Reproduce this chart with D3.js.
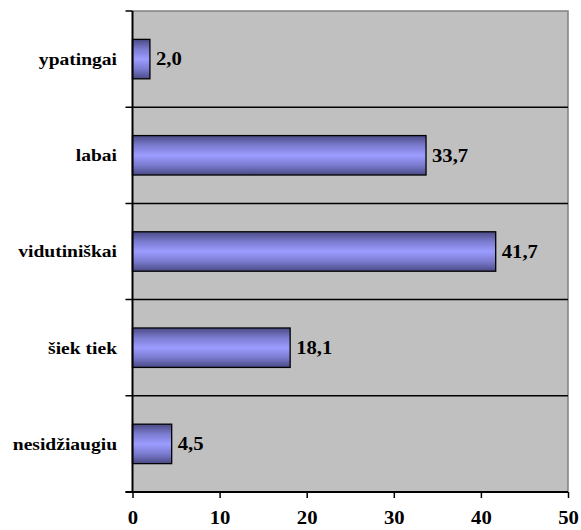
<!DOCTYPE html>
<html>
<head>
<meta charset="utf-8">
<script src="https://cdn.jsdelivr.net/npm/d3@7/dist/d3.min.js"></script>
<style>
  html, body { margin: 0; padding: 0; background: #fff; }
</style>
</head>
<body>
<svg id="chart" width="581" height="530"></svg>
<script>
// Answer categories, top to bottom
const categories = ["ypatingai", "labai", "vidutiniškai", "šiek tiek", "nesidžiaugiu"];
// Share of respondents, %
const values = [2.0, 33.7, 41.7, 18.1, 4.5];
// Value axis ticks
const xTicks = [0, 10, 20, 30, 40, 50];

const FONT = "Liberation Serif";
const STRETCH = 1.15; // slightly widened lettering

const svg = d3.select("#chart");
const m = { left: 132.5, right: 568, top: 11, bottom: 492 };

const x = d3.scaleLinear().domain([0, 50]).range([m.left, m.right]);
const y = d3.scaleBand().domain(categories).range([m.top, m.bottom]).paddingInner(0).paddingOuter(0);

// Bar fill: dark edges, light centre
const defs = svg.append("defs");
const grad = defs.append("linearGradient").attr("id", "barGrad")
  .attr("x1", 0).attr("y1", 0).attr("x2", 0).attr("y2", 1);
grad.append("stop").attr("offset", "0%").attr("stop-color", "#4a4a85");
grad.append("stop").attr("offset", "25%").attr("stop-color", "#7b7bd0");
grad.append("stop").attr("offset", "50%").attr("stop-color", "#9c9cff");
grad.append("stop").attr("offset", "75%").attr("stop-color", "#7b7bd0");
grad.append("stop").attr("offset", "100%").attr("stop-color", "#4a4a85");

// Plot area background
svg.append("rect")
  .attr("x", m.left).attr("y", m.top)
  .attr("width", m.right - m.left).attr("height", m.bottom - m.top)
  .attr("fill", "#c0c0c0");

// Top and right frame
svg.append("path")
  .attr("d", `M${m.left},${m.top}H${m.right}V${m.bottom}`)
  .attr("fill", "none").attr("stroke", "#808080").attr("stroke-width", 1.5);

// Category separators across the plot
const bounds = categories.slice(1).map(c => y(c));
svg.selectAll("line.sep").data(bounds).join("line")
  .attr("class", "sep")
  .attr("x1", m.left - 7).attr("x2", m.right)
  .attr("y1", d => d).attr("y2", d => d)
  .attr("stroke", "#000").attr("stroke-width", 1.5);

// Outer category ticks
svg.selectAll("line.ctick").data([m.top, m.bottom]).join("line")
  .attr("class", "ctick")
  .attr("x1", m.left - 7).attr("x2", m.left)
  .attr("y1", d => d).attr("y2", d => d)
  .attr("stroke", "#000").attr("stroke-width", 1.5);

// Bars
const barH = y.bandwidth() * 0.41;
svg.selectAll("rect.bar").data(categories).join("rect")
  .attr("class", "bar")
  .attr("x", x(0))
  .attr("y", d => y(d) + (y.bandwidth() - barH) / 2)
  .attr("width", (d, i) => x(values[i]) - x(0))
  .attr("height", barH)
  .attr("fill", "url(#barGrad)")
  .attr("stroke", "#000").attr("stroke-width", 1.3);

// Value labels
svg.selectAll("text.val").data(categories).join("text")
  .attr("class", "val")
  .attr("transform", (d, i) => `translate(${x(values[i]) + 6},${y(d) + y.bandwidth() / 2}) scale(${STRETCH},1)`)
  .attr("dy", "0.35em")
  .attr("font-family", FONT).attr("font-weight", "bold")
  .attr("font-size", 18).attr("fill", "#000")
  .text((d, i) => values[i].toFixed(1).replace(".", ","));

// Category labels
svg.selectAll("text.cat").data(categories).join("text")
  .attr("class", "cat")
  .attr("transform", d => `translate(117,${y(d) + y.bandwidth() / 2}) scale(${STRETCH},1)`)
  .attr("dy", "0.35em")
  .attr("text-anchor", "end")
  .attr("font-family", FONT).attr("font-weight", "bold")
  .attr("font-size", 17).attr("fill", "#000")
  .text(d => d);

// Axes lines
svg.append("line")
  .attr("x1", m.left).attr("x2", m.left).attr("y1", m.top).attr("y2", m.bottom)
  .attr("stroke", "#000").attr("stroke-width", 2);
svg.append("line")
  .attr("x1", m.left - 7).attr("x2", m.right).attr("y1", m.bottom).attr("y2", m.bottom)
  .attr("stroke", "#000").attr("stroke-width", 2);

// Value axis
const xAxis = d3.axisBottom(x).tickValues(xTicks).tickSize(6).tickPadding(13).tickFormat(d3.format("d"));
const gx = svg.append("g").attr("transform", `translate(0,${m.bottom})`).call(xAxis);
gx.select(".domain").remove();
gx.selectAll(".tick line").attr("stroke", "#000").attr("stroke-width", 1.5);
gx.selectAll(".tick text")
  .attr("transform", `scale(${STRETCH},1)`)
  .attr("x", 0)
  .attr("font-family", FONT).attr("font-weight", "bold")
  .attr("font-size", 18).attr("fill", "#000");
</script>
</body>
</html>
